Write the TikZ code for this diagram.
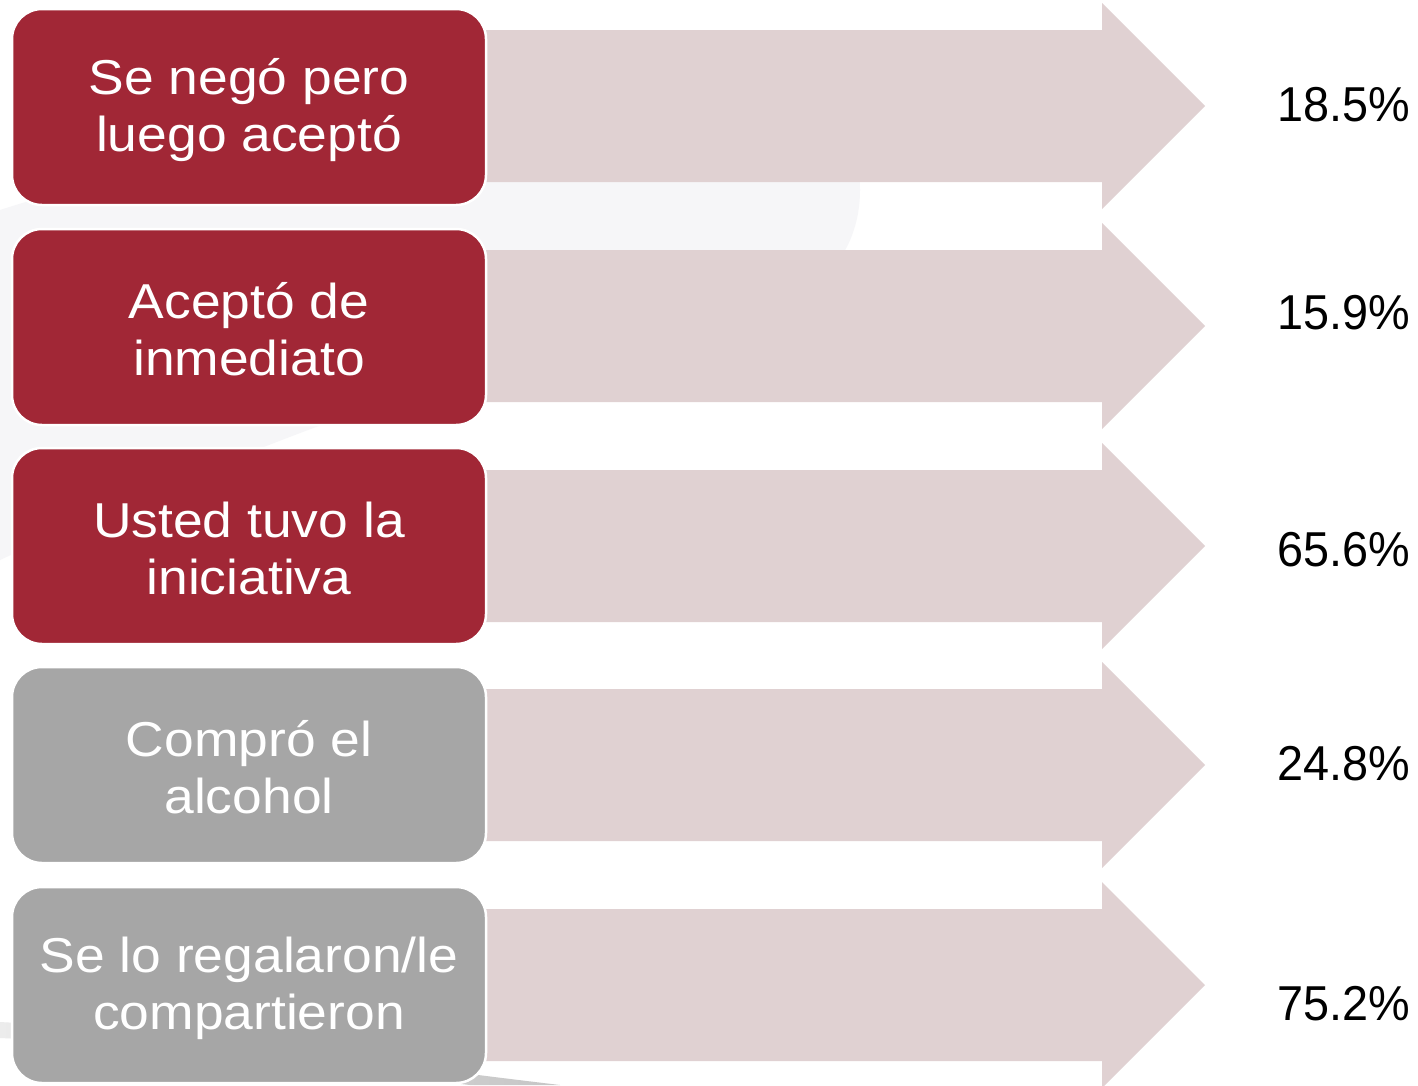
\documentclass[tikz,border=0pt]{standalone}
\usepackage{fontspec}
\setmainfont{Liberation Sans}
\newfontfamily\boxfont[FakeStretch=1.09]{Liberation Sans}
\newfontfamily\pctfont[FakeStretch=0.955]{Liberation Sans}
\definecolor{boxred}{RGB}{161,39,54}
\definecolor{boxgray}{RGB}{166,166,166}
\definecolor{arrowpink}{RGB}{224,209,210}
\definecolor{wmark}{RGB}{246,246,248}
\begin{document}
\begin{tikzpicture}[x=1pt,y=-1pt,
  catbox/.style={rounded corners=30pt, draw=white, line width=2.5pt,
    minimum width=474pt, minimum height=196pt, inner sep=0pt},
  redbox/.style={catbox, fill=boxred},
  graybox/.style={catbox, fill=boxgray},
  boxtext/.style={text=white, align=center, inner sep=0pt,
    font=\boxfont\fontsize{49}{57}\selectfont},
  pct/.style={anchor=east, inner sep=0pt, text=black,
    font=\pctfont\fontsize{49}{57}\selectfont},
  arrowshape/.style={fill=arrowpink}]
\useasboundingbox (0,0) rectangle (1418,1085);
\fill[white] (0,0) rectangle (1418,1085);
% faint watermark
\fill[wmark] (0,210) .. controls (250,130) and (600,95) .. (800,90)
  .. controls (880,120) and (880,260) .. (800,290)
  .. controls (600,320) and (300,420) .. (0,560) -- cycle;
\shade[left color=gray!15, right color=gray!45] (0,1022) .. controls (150,1030) and (350,1060) .. (560,1085) -- (470,1085) .. controls (320,1068) and (140,1044) .. (0,1038) -- cycle;
% arrows
\foreach \yc/\n in {106/a1,326/a2,546/a3,765/a4,985/a5}{
  \coordinate (\n) at (1205,\yc);
  \fill[arrowshape] (470,\yc-76) -- (1102,\yc-76) -- (1102,\yc-103) -- (\n)
    -- (1102,\yc+103) -- (1102,\yc+76) -- (470,\yc+76) -- cycle;
}
% boxes
\node[redbox] (b1) at (249,107) {};
\node[redbox] (b2) at (249,327) {};
\node[redbox] (b3) at (249,546) {};
\node[graybox] (b4) at (249,765) {};
\node[graybox] (b5) at (249,985) {};
\node[boxtext] (t1) at ([yshift=-3pt]b1.center) {Se negó pero\\luego aceptó};
\node[boxtext] (t2) at ([yshift=-2pt]b2.center) {Aceptó de\\inmediato};
\node[boxtext] (t3) at ([yshift=-2pt]b3.center) {Usted tuvo la\\iniciativa};
\node[boxtext] (t4) at ([yshift=-2pt]b4.center) {Compró el\\alcohol};
\node[boxtext] (t5) at ([yshift=-3pt]b5.center) {Se lo regalaron/le\\compartieron};
% percentages
\node[pct] (p1) at (1410,104.5) {18.5\%};
\node[pct] (p2) at (1410,312.5) {15.9\%};
\node[pct] (p3) at (1410,550) {65.6\%};
\node[pct] (p4) at (1410,763.5) {24.8\%};
\node[pct] (p5) at (1410,1003.5) {75.2\%};
\end{tikzpicture}
\end{document}
